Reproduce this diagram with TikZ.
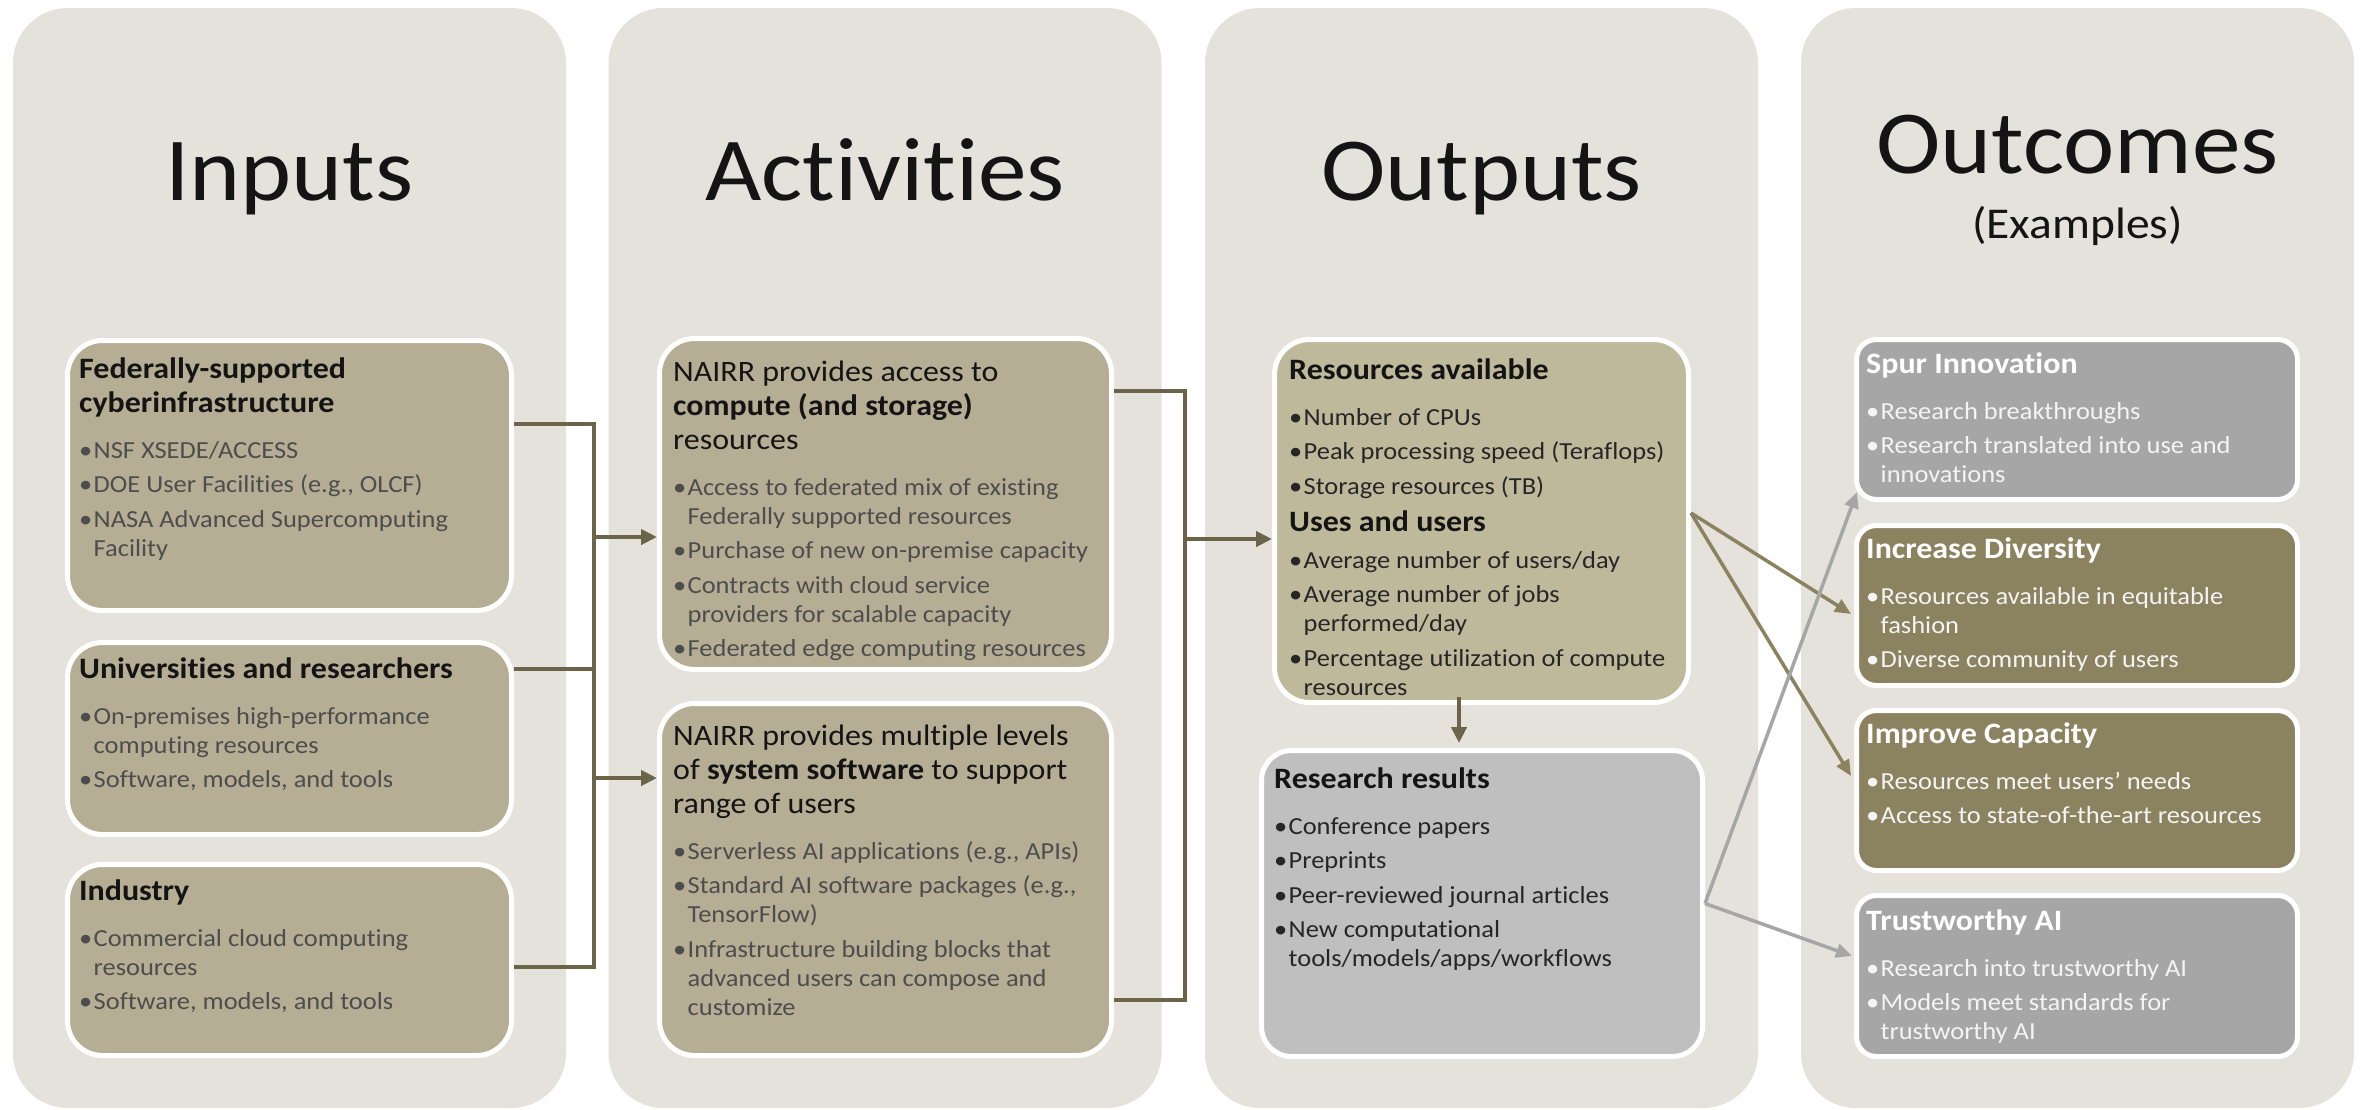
\documentclass[tikz,border=0pt]{standalone}
\usepackage{fontspec}
\setmainfont{Carlito}[FakeStretch=1.08, Ligatures=NoCommon]
\usetikzlibrary{arrows.meta,calc}

\definecolor{panelc}{HTML}{E5E2DC}
\definecolor{tanc}{HTML}{B5AE94}
\definecolor{tanl}{HTML}{BFB99C}
\definecolor{resc}{HTML}{BFBFBF}
\definecolor{outg}{HTML}{A6A6A6}
\definecolor{olivec}{HTML}{8B8260}
\definecolor{connc}{HTML}{6B6448}
\definecolor{graytxt}{HTML}{4D4D4D}
\definecolor{darktxt}{HTML}{141414}
\definecolor{outtxt}{HTML}{262626}
\definecolor{lighttxt}{HTML}{F4F4F4}

\newcommand\TS{\setlength{\parskip}{5.5pt}\setlength{\parindent}{0pt}\raggedright}
\newcommand\TB[1]{\vtop{\hsize=440pt\TS #1}}
\newcommand\HD[2][darktxt]{\par\noindent{\color{#1}\fontsize{29.6}{34}\selectfont\bfseries #2\par}}
\newcommand\AT[1]{\par\noindent{\color{darktxt}\fontsize{29.6}{34}\selectfont #1\par}}
\newcommand\BI[1]{\par\hangindent=14.5pt\hangafter=1\noindent\makebox[14.5pt][l]{•}#1\par}
\newcommand\GAP{\vspace{11.5pt}}

\tikzset{
  panel/.style={rectangle, rounded corners=55pt, fill=panelc, minimum width=553pt, minimum height=1100pt, inner sep=0pt},
  bigtitle/.style={anchor=base, inner sep=0pt, text=darktxt, font=\fontsize{90}{100}\selectfont},
  boxbase/.style={rectangle, draw=white, line width=5pt, inner sep=0pt},
  inbox/.style={boxbase, rounded corners=35pt, fill=tanc},
  obox/.style={boxbase, rounded corners=20pt},
  txt/.style={anchor=base west, inner sep=0pt, font=\fontsize{24.5}{29}\selectfont},
  conn/.style={draw=connc, line width=4pt},
  arr/.style={-{Triangle[length=16pt,width=15pt]}},
  olivearr/.style={draw=olivec, line width=3.5pt, -{Triangle[length=16pt,width=14pt]}},
  grayarr/.style={draw=outg, line width=3.5pt, -{Triangle[length=16pt,width=14pt]}},
}

\begin{document}
\begin{tikzpicture}[x=1pt,y=-1pt]
\useasboundingbox (0,0) rectangle (2364,1109);
\fill[white] (0,0) rectangle (2364,1109);

% panels
\node[panel] (pIn)  at (289.5,558) {};
\node[panel] (pAct) at (885,558) {};
\node[panel] (pOut) at (1481.5,558) {};
\node[panel] (pOc)  at (2077.5,558) {};

\node[bigtitle] (tIn)  at (289.5,200) {Inputs};
\node[bigtitle] (tAct) at (885,200) {Activities};
\node[bigtitle] (tOut) at (1481.5,200) {Outputs};
\node[bigtitle] (tOc)  at (2077.5,173) {Outcomes};
\node[anchor=base, inner sep=0pt, text=darktxt, font=\fontsize{44}{50}\selectfont] (tEx) at (2077.5,238) {(Examples)};

% input boxes
\node[inbox, minimum width=444pt, minimum height=270pt] (in1) at (289.5,475.5) {};
\node[inbox, minimum width=444pt, minimum height=192pt] (in2) at (289.5,738.5) {};
\node[inbox, minimum width=444pt, minimum height=191pt] (in3) at (289.5,960) {};
% activity boxes
\node[inbox, minimum width=452pt, minimum height=331pt] (act1) at (885.5,504) {};
\node[inbox, minimum width=452pt, minimum height=352pt] (act2) at (885.5,879.5) {};
% output boxes
\node[inbox, fill=tanl, minimum width=414pt, minimum height=363pt] (out1) at (1481.5,521) {};
\node[inbox, fill=resc, rounded corners=30pt, minimum width=441pt, minimum height=306pt] (res) at (1482,903.5) {};
% outcome boxes
\node[obox, fill=outg,   minimum width=441pt, minimum height=160pt] (spur)  at (2077,419.5) {};
\node[obox, fill=olivec, minimum width=441pt, minimum height=160pt] (div)   at (2077,605.5) {};
\node[obox, fill=olivec, minimum width=441pt, minimum height=160pt] (cap)   at (2077,790.5) {};
\node[obox, fill=outg,   minimum width=441pt, minimum height=161pt] (trust) at (2077,976) {};

% connectors inputs -> activities
\coordinate (inBusT) at (594,424);
\coordinate (inBus2) at (594,669);
\coordinate (inBusB) at (594,967);
\coordinate (inArr1) at (594,537);
\coordinate (inArr2) at (594,778);
\draw[conn] (in1.east |- inBusT) -- (inBusT) -- (inBusB) -- (in3.east |- inBusB);
\draw[conn] (in2.east |- inBus2) -- (inBus2);
\draw[conn,arr] (inArr1) -- (act1.west |- inArr1);
\draw[conn,arr] (inArr2) -- (act2.west |- inArr2);

% connectors activities -> outputs
\coordinate (actBusT) at (1185,391);
\coordinate (actBusB) at (1185,1000);
\coordinate (actArr) at (1185,539);
\draw[conn] (act1.east |- actBusT) -- (actBusT) -- (actBusB) -- (act2.east |- actBusB);
\draw[conn,arr] (actArr) -- (out1.west |- actArr);

% outputs -> research results
\coordinate (downA) at ($(out1.south)+(-22.5,-8)$);
\draw[conn,arr] (downA) -- ($(downA |- res.north)+(0,-5)$);

% outputs -> outcomes
\coordinate (oSrc) at ($(out1.east)+(0,-8)$);
\draw[olivearr] (oSrc) -- ($(div.west)+(-3,8.5)$);
\draw[olivearr] (oSrc) -- ($(cap.west)+(-3,-14.5)$);
\draw[grayarr] (res.east) -- ($(spur.south west)+(3,-10)$);
\draw[grayarr] (res.east) -- ($(trust.west)+(-2,-20)$);

% texts inputs
\node[txt, text=graytxt] (xin1) at ($(in1.north west)+(14,40)$) {\TB{%
\HD{Federally-supported\newline cyberinfrastructure}\GAP
\BI{NSF XSEDE/ACCESS}
\BI{DOE User Facilities (e.g., OLCF)}
\BI{NASA Advanced Supercomputing\newline Facility}}};
\node[txt, text=graytxt] (xin2) at ($(in2.north west)+(14,38)$) {\TB{%
\HD{Universities and researchers}\GAP
\BI{On-premises high-performance\newline computing resources}
\BI{Software, models, and tools}}};
\node[txt, text=graytxt] (xin3) at ($(in3.north west)+(14,38)$) {\TB{%
\HD{Industry}\GAP
\BI{Commercial cloud computing\newline resources}
\BI{Software, models, and tools}}};

% texts activities
\node[txt, text=graytxt] (xact1) at ($(act1.north west)+(16,45)$) {\TB{%
\AT{NAIRR provides access to\newline \textbf{compute (and storage)}\newline resources}\GAP
\BI{Access to federated mix of existing\newline Federally supported resources}
\BI{Purchase of new on-premise capacity}
\BI{Contracts with cloud service\newline providers for scalable capacity}
\BI{Federated edge computing resources}}};
\node[txt, text=graytxt] (xact2) at ($(act2.north west)+(16,44)$) {\TB{%
\AT{NAIRR provides multiple levels\newline of \textbf{system software} to support\newline range of users}\GAP
\BI{Serverless AI applications (e.g., APIs)}
\BI{Standard AI software packages (e.g.,\newline TensorFlow)}
\BI{Infrastructure building blocks that\newline advanced users can compose and\newline customize}}};

% texts outputs
\node[txt, text=outtxt] (xout1) at ($(out1.north west)+(17,42)$) {\TB{%
\HD{Resources available}\GAP
\BI{Number of CPUs}
\BI{Peak processing speed (Teraflops)}
\BI{Storage resources (TB)}
\vspace{-2.5pt}\HD{Uses and users}\vspace{2.5pt}
\BI{Average number of users/day}
\BI{Average number of jobs\newline performed/day}
\BI{Percentage utilization of compute\newline resources}}};
\node[txt, text=outtxt] (xres) at ($(res.north west)+(15,40)$) {\TB{%
\HD{Research results}\GAP
\BI{Conference papers}
\BI{Preprints}
\BI{Peer-reviewed journal articles}
\BI{New computational\newline tools/models/apps/workflows}}};

% texts outcomes
\node[txt, text=lighttxt] (xspur) at ($(spur.north west)+(12,36)$) {\TB{%
\HD[white]{Spur Innovation}\GAP
\BI{Research breakthroughs}
\BI{Research translated into use and\newline innovations}}};
\node[txt, text=lighttxt] (xdiv) at ($(div.north west)+(12,35)$) {\TB{%
\HD[white]{Increase Diversity}\GAP
\BI{Resources available in equitable\newline fashion}
\BI{Diverse community of users}}};
\node[txt, text=lighttxt] (xcap) at ($(cap.north west)+(12,35)$) {\TB{%
\HD[white]{Improve Capacity}\GAP
\BI{Resources meet users’ needs}
\BI{Access to state-of-the-art resources}}};
\node[txt, text=lighttxt] (xtrust) at ($(trust.north west)+(12,37)$) {\TB{%
\HD[white]{Trustworthy AI}\GAP
\BI{Research into trustworthy AI}
\BI{Models meet standards for\newline trustworthy AI}}};
\end{tikzpicture}
\end{document}
